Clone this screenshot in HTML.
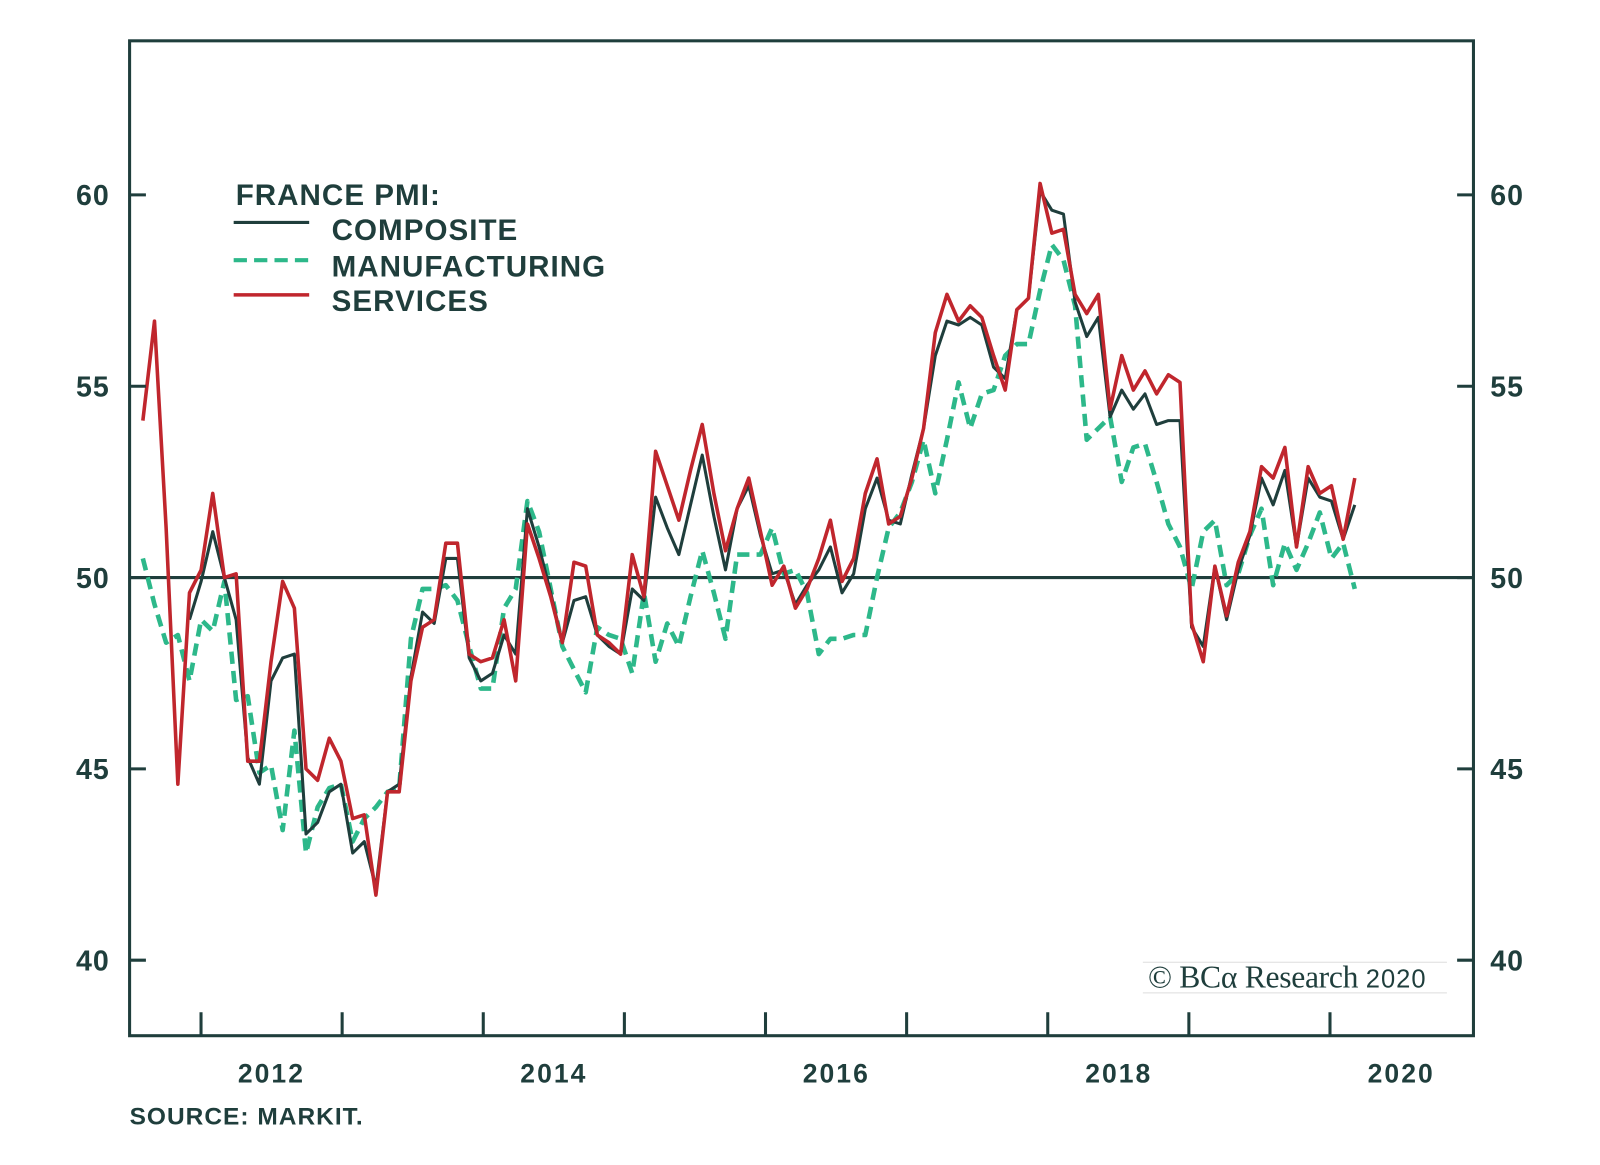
<!DOCTYPE html>
<html><head><meta charset="utf-8">
<style>
html,body{margin:0;padding:0;background:#fff;}
svg{display:block;font-family:"Liberation Sans",sans-serif;}
</style></head>
<body>
<svg id="chart" width="1600" height="1165" viewBox="0 0 1600 1165" xmlns="http://www.w3.org/2000/svg">
<rect x="0" y="0" width="1600" height="1165" fill="#fff"/>
<g transform="scale(1.0204)">
<g id="marks"></g>
<rect x="127" y="40" width="1317" height="975" fill="none" stroke="#1f3e3c" stroke-width="3"/>
<g id="axes"></g>
<g font-weight="bold" fill="#1f3e3c" font-size="29" letter-spacing="1">
  <text x="231" y="201">FRANCE PMI:</text>
  <line x1="229" y1="218" x2="303" y2="218" stroke="#1f3e3c" stroke-width="3"/>
  <text x="325" y="235">COMPOSITE</text>
  <line x1="229" y1="255" x2="303" y2="255" stroke="#2db88a" stroke-width="4" stroke-dasharray="13 7"/>
  <text x="325" y="271">MANUFACTURING</text>
  <line x1="229" y1="289" x2="303" y2="289" stroke="#c0262d" stroke-width="3.5"/>
  <text x="325" y="305">SERVICES</text>
</g>
<g>
  <line x1="1120" y1="943" x2="1418" y2="943" stroke="#ddd" stroke-width="1"/>
  <line x1="1120" y1="973" x2="1418" y2="973" stroke="#ddd" stroke-width="1"/>
  <text x="1125" y="968" font-family="'Liberation Serif',serif" font-size="31" fill="#1f3e3c" letter-spacing="-0.3">© BCα Research <tspan font-family="'Liberation Sans',sans-serif" font-size="25" letter-spacing="1">2020</tspan></text>
</g>
<text x="127" y="1102" font-size="24" font-weight="bold" fill="#1f3e3c" letter-spacing="1">SOURCE: MARKIT.</text>
</g>
</svg>
<script>
const yTicks = [40, 45, 50, 55, 60];
const yearLabels = ["2012", "2014", "2016", "2018", "2020"];
const services = [54.1,56.7,51.3,44.6,49.6,50.2,52.2,50.0,50.1,45.2,45.2,47.8,49.9,49.2,45.0,44.7,45.8,45.2,43.7,43.8,41.7,44.4,44.4,47.3,48.7,48.9,50.9,50.9,48.0,47.8,47.9,48.9,47.3,51.4,50.5,49.5,48.3,50.4,50.3,48.5,48.3,48.0,50.6,49.5,53.3,52.4,51.5,52.8,54.0,52.2,50.7,51.8,52.6,51.2,49.8,50.3,49.2,49.7,50.5,51.5,49.9,50.5,52.2,53.1,51.4,51.6,52.6,53.9,56.4,57.4,56.7,57.1,56.8,55.8,54.9,57.0,57.3,60.3,59.0,59.1,57.4,56.9,57.4,54.4,55.8,54.9,55.4,54.8,55.3,55.1,48.8,47.8,50.3,49.0,50.4,51.2,52.9,52.6,53.4,50.8,52.9,52.2,52.4,51.0,52.6];
const composite = [null,null,null,null,48.9,49.9,51.2,50.0,48.9,45.3,44.6,47.3,47.9,48.0,43.3,43.6,44.4,44.6,42.8,43.1,41.9,44.4,44.6,47.4,49.1,48.8,50.5,50.5,47.9,47.3,47.5,48.5,48.0,51.8,50.8,49.6,48.3,49.4,49.5,48.5,48.2,48.0,49.7,49.4,52.1,51.3,50.6,51.9,53.2,51.6,50.2,51.8,52.4,51.1,50.1,50.2,49.3,49.8,50.2,50.8,49.6,50.1,51.8,52.6,51.5,51.4,52.7,53.9,55.8,56.7,56.6,56.8,56.6,55.5,55.2,57.0,57.3,60.1,59.6,59.5,57.2,56.3,56.8,54.2,54.9,54.4,54.8,54.0,54.1,54.1,48.7,48.2,50.3,48.9,50.2,51.1,52.6,51.9,52.8,50.8,52.6,52.1,52.0,51.0,51.9];
const manufacturing = [50.5,49.3,48.3,48.5,47.3,48.9,48.6,49.9,46.8,46.9,44.9,45.1,43.4,46.0,42.8,44.0,44.5,44.6,43.1,43.7,44.0,44.4,44.5,48.4,49.7,49.7,49.8,49.4,48.2,47.1,47.1,49.2,49.7,52.0,51.2,49.7,48.2,47.6,47.0,48.7,48.5,48.4,47.5,49.6,47.8,48.8,48.2,49.5,50.7,49.6,48.4,50.6,50.6,50.6,51.3,50.1,50.2,49.6,48.0,48.4,48.4,48.5,48.5,50.0,51.3,51.7,52.5,53.6,52.2,53.6,55.1,53.9,54.8,54.9,55.8,56.1,56.1,57.5,58.7,58.3,57.1,53.6,53.9,54.2,52.5,53.4,53.5,52.5,51.4,50.8,49.7,51.2,51.5,49.8,50.1,51.1,51.8,49.8,50.9,50.2,50.9,51.7,50.5,50.9,49.7];

const NS = "http://www.w3.org/2000/svg";
const X0 = 140, DX = 11.42;
const yScale = v => 566 - (v - 50) * 37.5;
const xScale = i => X0 + DX * i;
const yearX = k => 266 + 276.8 * k;
const tickX = k => 197 + 138.3 * k;

const axes = document.getElementById('axes');
const marks = document.getElementById('marks');
function mk(tag, attrs, parent){
  const e = document.createElementNS(NS, tag);
  for (const k in attrs) e.setAttribute(k, attrs[k]);
  parent.appendChild(e); return e;
}
const ref = mk('line', {x1:127, x2:1444, y1:yScale(50), y2:yScale(50), stroke:'#1f3e3c', 'stroke-width':3}, marks);



yTicks.forEach(v => {
  const y = yScale(v);
  const tl = mk('line', {x1:127, x2:143, y1:y, y2:y, stroke:'#1f3e3c', 'stroke-width':3}, axes);
  
  
  const tr = mk('line', {x1:1428, x2:1444, y1:y, y2:y, stroke:'#1f3e3c', 'stroke-width':3}, axes);
  
  
  const l = mk('text', {x:91, y:y+10, 'text-anchor':'middle', 'font-size':28, 'font-weight':'bold', 'letter-spacing':1, fill:'#1f3e3c'}, axes);
  l.textContent = v;
  
  
  const r = mk('text', {x:1477, y:y+10, 'text-anchor':'middle', 'font-size':28, 'font-weight':'bold', 'letter-spacing':1, fill:'#1f3e3c'}, axes);
  r.textContent = v;
  
  
});
for (let k = 0; k < 9; k++){
  const x = tickX(k);
  const t = mk('line', {x1:x, x2:x, y1:992, y2:1015, stroke:'#1f3e3c', 'stroke-width':3}, axes);
  
  
}
yearLabels.forEach((lab, k) => {
  const t = mk('text', {x:yearX(k), y:1061, 'text-anchor':'middle', 'font-size':26, 'font-weight':'bold', 'letter-spacing':2, fill:'#1f3e3c'}, axes);
  t.textContent = lab;
  
  
});

function pathFor(arr){
  let d = '', pen = false;
  arr.forEach((v, i) => {
    if (v === null) { pen = false; return; }
    d += (pen ? 'L' : 'M') + xScale(i).toFixed(1) + ' ' + yScale(v).toFixed(1) + ' ';
    pen = true;
  });
  return d;
}
const pm = mk('path', {d:pathFor(manufacturing), fill:'none', stroke:'#2db88a', 'stroke-width':4.5, 'stroke-dasharray':'12 7', 'stroke-linejoin':'round'}, marks);


const pc = mk('path', {d:pathFor(composite), fill:'none', stroke:'#1f3e3c', 'stroke-width':3, 'stroke-linejoin':'round'}, marks);


const ps = mk('path', {d:pathFor(services), fill:'none', stroke:'#c0262d', 'stroke-width':3.5, 'stroke-linejoin':'round'}, marks);


</script>
</body></html>
